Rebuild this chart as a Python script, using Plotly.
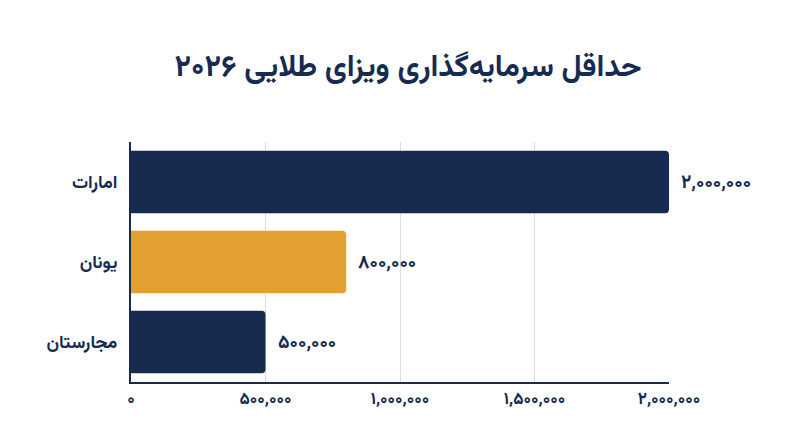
import plotly.graph_objects as go

# داده‌ها
countries = ["امارات", "یونان", "مجارستان"]
amounts = [2000000, 800000, 500000]
amount_labels = ["۲,۰۰۰,۰۰۰", "۸۰۰,۰۰۰", "۵۰۰,۰۰۰"]
bar_colors = ["#172a4f", "#e3a032", "#172a4f"]

tick_values = [0, 500000, 1000000, 1500000, 2000000]
tick_labels = ["۰", "۵۰۰,۰۰۰", "۱,۰۰۰,۰۰۰", "۱,۵۰۰,۰۰۰", "۲,۰۰۰,۰۰۰"]

navy = "#172a4f"
font_family = "Vazirmatn, Noto Sans Arabic, DejaVu Sans, sans-serif"

fig = go.Figure(
    go.Bar(
        x=amounts,
        y=countries,
        orientation="h",
        marker=dict(color=bar_colors, line=dict(width=0)),
        hoverinfo="skip",
    )
)

# برچسب مقدار کنار هر میله
for c, v, t in zip(countries, amounts, amount_labels):
    fig.add_annotation(
        x=v, y=c, text=t, showarrow=False,
        xanchor="left", yanchor="middle", xshift=10, yshift=-1,
        font=dict(family=font_family, size=19, color=navy, weight="bold"),
    )

fig.update_layout(
    width=800,
    height=447,
    autosize=False,
    margin=dict(l=123, r=139, t=134, b=73),
    paper_bgcolor="white",
    plot_bgcolor="white",
    bargap=0.22,
    barcornerradius=4,
    showlegend=False,
    font=dict(family=font_family, color=navy),
    title=dict(
        text="حداقل سرمایه‌گذاری ویزای طلایی ۲۰۲۶",
        x=0.5,
        xanchor="center",
        y=0.872,
        yanchor="middle",
        font=dict(family=font_family, size=30.5, color=navy, weight="bold"),
    ),
    xaxis=dict(
        range=[0, 2000000],
        tickvals=tick_values,
        ticktext=tick_labels,
        tickfont=dict(family=font_family, size=17, color=navy, weight="bold"),
        showgrid=True,
        gridcolor="#dcdcdc",
        gridwidth=1,
        showline=True,
        linecolor=navy,
        linewidth=2,
        zeroline=False,
        ticks="",
        ticklabelstandoff=0,
    ),
    yaxis=dict(
        categoryorder="array",
        categoryarray=countries,
        autorange="reversed",
        showline=True,
        linecolor=navy,
        linewidth=2,
        showgrid=False,
        ticks="",
        tickfont=dict(family=font_family, size=18, color=navy, weight="bold"),
        ticklabelstandoff=8,
    ),
)

fig.write_html("out.html")
